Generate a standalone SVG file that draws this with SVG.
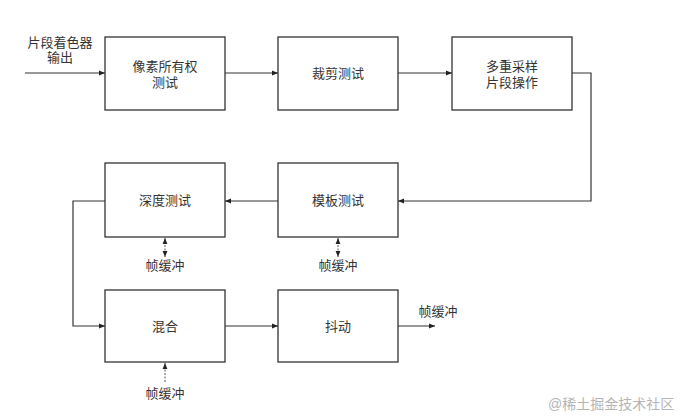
<svg xmlns="http://www.w3.org/2000/svg" width="681" height="418" viewBox="0 0 681 418">
<style>
.box{fill:#fff;stroke:#333;stroke-width:1.3}
.t{font-family:"Liberation Sans","Noto Sans CJK SC",sans-serif;font-size:13px;fill:#333;text-anchor:middle}
.ln{fill:none;stroke:#333;stroke-width:1.2}
.dash{fill:none;stroke:#555;stroke-width:1;stroke-dasharray:2,1.5}
.wm{font-family:"Liberation Sans","Noto Sans CJK SC",sans-serif;font-size:14px;fill:#b5b5b5}
</style>
<defs>
<marker id="ah" viewBox="0 0 10 10" refX="10" refY="5" markerWidth="6" markerHeight="6" orient="auto-start-reverse" markerUnits="userSpaceOnUse">
<path d="M0,1 L10,5 L0,9 z" fill="#222"/>
</marker>
</defs>
<rect width="681" height="418" fill="#fff"/>
<g id="connectors">
<path class="ln" d="M25,73 H105" marker-end="url(#ah)"/>
<path class="ln" d="M225,73 H278" marker-end="url(#ah)"/>
<path class="ln" d="M398,73 H452" marker-end="url(#ah)"/>
<path class="ln" d="M572,73 H591 V201 H398" marker-end="url(#ah)"/>
<path class="ln" d="M278,201 H225" marker-end="url(#ah)"/>
<path class="ln" d="M105,201 H73 V326 H105" marker-end="url(#ah)"/>
<path class="ln" d="M225,326 H278" marker-end="url(#ah)"/>
<path class="ln" d="M398,326 H435" marker-end="url(#ah)"/>
<path class="dash" d="M165,238 V257" marker-start="url(#ah)" marker-end="url(#ah)"/>
<path class="dash" d="M338,238 V257" marker-start="url(#ah)" marker-end="url(#ah)"/>
<path class="dash" d="M165,382 V363" marker-end="url(#ah)"/>
</g>
<g id="input"><text class="t" x="60" y="47">片段着色器</text><text class="t" x="60" y="62">输出</text></g>
<g id="n1"><rect class="box" x="105" y="37" width="120" height="73"/><text class="t" x="165" y="71">像素所有权</text><text class="t" x="165" y="87">测试</text></g>
<g id="n2"><rect class="box" x="278" y="37" width="120" height="73"/><text class="t" x="338" y="78">裁剪测试</text></g>
<g id="n3"><rect class="box" x="452" y="37" width="120" height="73"/><text class="t" x="512" y="71">多重采样</text><text class="t" x="512" y="87">片段操作</text></g>
<g id="n4"><rect class="box" x="278" y="163" width="120" height="74"/><text class="t" x="338" y="205">模板测试</text></g>
<g id="n5"><rect class="box" x="105" y="163" width="120" height="74"/><text class="t" x="165" y="205">深度测试</text></g>
<g id="n6"><rect class="box" x="105" y="290" width="120" height="72"/><text class="t" x="165" y="331">混合</text></g>
<g id="n7"><rect class="box" x="278" y="290" width="120" height="72"/><text class="t" x="338" y="331">抖动</text></g>
<g id="fb1"><text class="t" x="165" y="270">帧缓冲</text></g>
<g id="fb2"><text class="t" x="338" y="270">帧缓冲</text></g>
<g id="fb3"><text class="t" x="165" y="398">帧缓冲</text></g>
<g id="fb4"><text class="t" x="438" y="316">帧缓冲</text></g>
<text class="wm" x="548" y="409">@稀土掘金技术社区</text>
</svg>
